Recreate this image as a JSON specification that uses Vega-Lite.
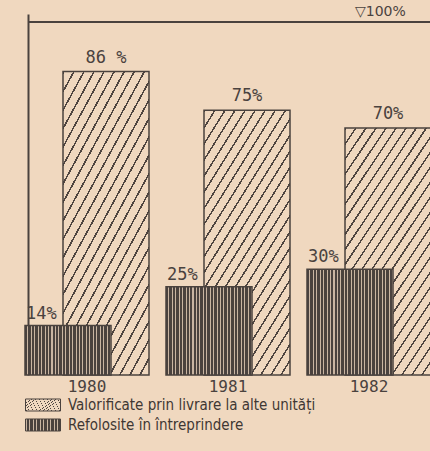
{
  "$schema": "https://vega.github.io/schema/vega-lite/v6.json",
  "width": 402,
  "height": 361,
  "autosize": {"type": "none"},
  "padding": {"left": 28, "top": 14, "right": 0, "bottom": 76},
  "background": "#f0d8bf",
  "config": {
    "view": {"stroke": null},
    "font": "DejaVu Sans Mono",
    "axisX": {"domain": false, "ticks": false, "grid": false, "labelFont": "DejaVu Sans Mono", "labelFontSize": 16, "labelColor": "#4a423e", "labelPadding": 3, "labelAngle": 0},
    "axisY": {"labels": false, "ticks": false, "grid": false, "domainColor": "#4a423e", "domainWidth": 2},
    "legend": {"orient": "none", "title": null, "symbolType": "M-1,-0.343H1V0.343H-1Z", "symbolSize": 1225, "symbolStrokeWidth": 1, "labelFont": "DejaVu Sans Condensed", "labelFontSize": 15, "labelColor": "#3f3733", "labelOffset": 7, "labelLimit": 0}
  },
  "resolve": {"scale": {"stroke": "independent"}, "legend": {"stroke": "independent"}},
  "data": {
    "values": [
      {"year": "1980", "type": "Valorificate prin livrare la alte unități", "value": 86, "label": "86 %"},
      {"year": "1981", "type": "Valorificate prin livrare la alte unități", "value": 75, "label": "75%"},
      {"year": "1982", "type": "Valorificate prin livrare la alte unități", "value": 70, "label": "70%"},
      {"year": "1980", "type": "Refolosite în întreprindere", "value": 14, "label": "14%"},
      {"year": "1981", "type": "Refolosite în întreprindere", "value": 25, "label": "25%"},
      {"year": "1982", "type": "Refolosite în întreprindere", "value": 30, "label": "30%"}
    ]
  },
  "layer": [
    {
      "mark": {"type": "rule", "strokeWidth": 2, "color": "#4a423e"},
      "encoding": {"y": {"datum": 100, "type": "quantitative", "scale": {"domain": [0, 102.3], "nice": false}, "title": null}}
    },
    {
      "transform": [{"filter": {"field": "type", "equal": "Valorificate prin livrare la alte unități"}}],
      "mark": {"type": "bar", "width": 86, "xOffset": 19, "strokeWidth": 1.5,
        "fill": {"gradient": "linear", "x1": 0, "y1": 0, "x2": 0.622, "y2": 1.197, "stops": [
                {"offset": 0, "color": "#4f4540"}, {"offset": 0.007, "color": "#4f4540"}, {"offset": 0.007, "color": "#f0d8bf"}, {"offset": 0.04, "color": "#f0d8bf"},
                {"offset": 0.04, "color": "#4f4540"}, {"offset": 0.047, "color": "#4f4540"}, {"offset": 0.047, "color": "#f0d8bf"}, {"offset": 0.08, "color": "#f0d8bf"},
                {"offset": 0.08, "color": "#4f4540"}, {"offset": 0.087, "color": "#4f4540"}, {"offset": 0.087, "color": "#f0d8bf"}, {"offset": 0.12, "color": "#f0d8bf"},
                {"offset": 0.12, "color": "#4f4540"}, {"offset": 0.127, "color": "#4f4540"}, {"offset": 0.127, "color": "#f0d8bf"}, {"offset": 0.16, "color": "#f0d8bf"},
                {"offset": 0.16, "color": "#4f4540"}, {"offset": 0.167, "color": "#4f4540"}, {"offset": 0.167, "color": "#f0d8bf"}, {"offset": 0.2, "color": "#f0d8bf"},
                {"offset": 0.2, "color": "#4f4540"}, {"offset": 0.207, "color": "#4f4540"}, {"offset": 0.207, "color": "#f0d8bf"}, {"offset": 0.24, "color": "#f0d8bf"},
                {"offset": 0.24, "color": "#4f4540"}, {"offset": 0.247, "color": "#4f4540"}, {"offset": 0.247, "color": "#f0d8bf"}, {"offset": 0.28, "color": "#f0d8bf"},
                {"offset": 0.28, "color": "#4f4540"}, {"offset": 0.287, "color": "#4f4540"}, {"offset": 0.287, "color": "#f0d8bf"}, {"offset": 0.32, "color": "#f0d8bf"},
                {"offset": 0.32, "color": "#4f4540"}, {"offset": 0.327, "color": "#4f4540"}, {"offset": 0.327, "color": "#f0d8bf"}, {"offset": 0.36, "color": "#f0d8bf"},
                {"offset": 0.36, "color": "#4f4540"}, {"offset": 0.367, "color": "#4f4540"}, {"offset": 0.367, "color": "#f0d8bf"}, {"offset": 0.4, "color": "#f0d8bf"},
                {"offset": 0.4, "color": "#4f4540"}, {"offset": 0.407, "color": "#4f4540"}, {"offset": 0.407, "color": "#f0d8bf"}, {"offset": 0.44, "color": "#f0d8bf"},
                {"offset": 0.44, "color": "#4f4540"}, {"offset": 0.447, "color": "#4f4540"}, {"offset": 0.447, "color": "#f0d8bf"}, {"offset": 0.48, "color": "#f0d8bf"},
                {"offset": 0.48, "color": "#4f4540"}, {"offset": 0.487, "color": "#4f4540"}, {"offset": 0.487, "color": "#f0d8bf"}, {"offset": 0.52, "color": "#f0d8bf"},
                {"offset": 0.52, "color": "#4f4540"}, {"offset": 0.527, "color": "#4f4540"}, {"offset": 0.527, "color": "#f0d8bf"}, {"offset": 0.56, "color": "#f0d8bf"},
                {"offset": 0.56, "color": "#4f4540"}, {"offset": 0.567, "color": "#4f4540"}, {"offset": 0.567, "color": "#f0d8bf"}, {"offset": 0.6, "color": "#f0d8bf"},
                {"offset": 0.6, "color": "#4f4540"}, {"offset": 0.607, "color": "#4f4540"}, {"offset": 0.607, "color": "#f0d8bf"}, {"offset": 0.64, "color": "#f0d8bf"},
                {"offset": 0.64, "color": "#4f4540"}, {"offset": 0.647, "color": "#4f4540"}, {"offset": 0.647, "color": "#f0d8bf"}, {"offset": 0.68, "color": "#f0d8bf"},
                {"offset": 0.68, "color": "#4f4540"}, {"offset": 0.687, "color": "#4f4540"}, {"offset": 0.687, "color": "#f0d8bf"}, {"offset": 0.72, "color": "#f0d8bf"},
                {"offset": 0.72, "color": "#4f4540"}, {"offset": 0.727, "color": "#4f4540"}, {"offset": 0.727, "color": "#f0d8bf"}, {"offset": 0.76, "color": "#f0d8bf"},
                {"offset": 0.76, "color": "#4f4540"}, {"offset": 0.767, "color": "#4f4540"}, {"offset": 0.767, "color": "#f0d8bf"}, {"offset": 0.8, "color": "#f0d8bf"},
                {"offset": 0.8, "color": "#4f4540"}, {"offset": 0.807, "color": "#4f4540"}, {"offset": 0.807, "color": "#f0d8bf"}, {"offset": 0.84, "color": "#f0d8bf"},
                {"offset": 0.84, "color": "#4f4540"}, {"offset": 0.847, "color": "#4f4540"}, {"offset": 0.847, "color": "#f0d8bf"}, {"offset": 0.88, "color": "#f0d8bf"},
                {"offset": 0.88, "color": "#4f4540"}, {"offset": 0.887, "color": "#4f4540"}, {"offset": 0.887, "color": "#f0d8bf"}, {"offset": 0.92, "color": "#f0d8bf"},
                {"offset": 0.92, "color": "#4f4540"}, {"offset": 0.927, "color": "#4f4540"}, {"offset": 0.927, "color": "#f0d8bf"}, {"offset": 0.96, "color": "#f0d8bf"},
                {"offset": 0.96, "color": "#4f4540"}, {"offset": 0.967, "color": "#4f4540"}, {"offset": 0.967, "color": "#f0d8bf"}, {"offset": 1, "color": "#f0d8bf"}
        ]}
      },
      "encoding": {
        "x": {"field": "year", "type": "nominal", "title": null, "scale": {"type": "band", "range": [-11.5, 411.5], "paddingInner": 0, "paddingOuter": 0}},
        "y": {"field": "value", "type": "quantitative", "title": null, "scale": {"domain": [0, 102.3], "nice": false}},
        "stroke": {
          "field": "type", "type": "nominal",
          "scale": {"domain": ["Valorificate prin livrare la alte unități"], "range": ["#4a423e"]},
          "legend": {
            "legendX": -3, "legendY": 373,
            "encode": {"symbols": {"update": {
              "fill": {"value": {"gradient": "linear", "x1": 0, "y1": 0, "x2": 1.138, "y2": 0.195, "stops": [
                {"offset": 0, "color": "#4f4540"}, {"offset": 0.025, "color": "#4f4540"}, {"offset": 0.025, "color": "#f0d8bf"}, {"offset": 0.125, "color": "#f0d8bf"},
                {"offset": 0.125, "color": "#4f4540"}, {"offset": 0.15, "color": "#4f4540"}, {"offset": 0.15, "color": "#f0d8bf"}, {"offset": 0.25, "color": "#f0d8bf"},
                {"offset": 0.25, "color": "#4f4540"}, {"offset": 0.275, "color": "#4f4540"}, {"offset": 0.275, "color": "#f0d8bf"}, {"offset": 0.375, "color": "#f0d8bf"},
                {"offset": 0.375, "color": "#4f4540"}, {"offset": 0.4, "color": "#4f4540"}, {"offset": 0.4, "color": "#f0d8bf"}, {"offset": 0.5, "color": "#f0d8bf"},
                {"offset": 0.5, "color": "#4f4540"}, {"offset": 0.525, "color": "#4f4540"}, {"offset": 0.525, "color": "#f0d8bf"}, {"offset": 0.625, "color": "#f0d8bf"},
                {"offset": 0.625, "color": "#4f4540"}, {"offset": 0.65, "color": "#4f4540"}, {"offset": 0.65, "color": "#f0d8bf"}, {"offset": 0.75, "color": "#f0d8bf"},
                {"offset": 0.75, "color": "#4f4540"}, {"offset": 0.775, "color": "#4f4540"}, {"offset": 0.775, "color": "#f0d8bf"}, {"offset": 0.875, "color": "#f0d8bf"},
                {"offset": 0.875, "color": "#4f4540"}, {"offset": 0.9, "color": "#4f4540"}, {"offset": 0.9, "color": "#f0d8bf"}, {"offset": 1, "color": "#f0d8bf"}
              ]}},
              "fillOpacity": {"value": 1},
              "opacity": {"value": 1}
            }}}
          }
        }
      }
    },
    {
      "transform": [{"filter": {"field": "type", "equal": "Refolosite în întreprindere"}}],
      "mark": {"type": "bar", "width": 86, "xOffset": -19, "strokeWidth": 1.5,
        "fill": {"gradient": "linear", "x1": 0, "y1": 0, "x2": 1, "y2": 0, "stops": [
                {"offset": 0, "color": "#4a423e"}, {"offset": 0.028, "color": "#4a423e"}, {"offset": 0.028, "color": "#c9b5a2"}, {"offset": 0.04, "color": "#c9b5a2"},
                {"offset": 0.04, "color": "#4a423e"}, {"offset": 0.068, "color": "#4a423e"}, {"offset": 0.068, "color": "#c9b5a2"}, {"offset": 0.08, "color": "#c9b5a2"},
                {"offset": 0.08, "color": "#4a423e"}, {"offset": 0.108, "color": "#4a423e"}, {"offset": 0.108, "color": "#c9b5a2"}, {"offset": 0.12, "color": "#c9b5a2"},
                {"offset": 0.12, "color": "#4a423e"}, {"offset": 0.148, "color": "#4a423e"}, {"offset": 0.148, "color": "#c9b5a2"}, {"offset": 0.16, "color": "#c9b5a2"},
                {"offset": 0.16, "color": "#4a423e"}, {"offset": 0.188, "color": "#4a423e"}, {"offset": 0.188, "color": "#c9b5a2"}, {"offset": 0.2, "color": "#c9b5a2"},
                {"offset": 0.2, "color": "#4a423e"}, {"offset": 0.228, "color": "#4a423e"}, {"offset": 0.228, "color": "#c9b5a2"}, {"offset": 0.24, "color": "#c9b5a2"},
                {"offset": 0.24, "color": "#4a423e"}, {"offset": 0.268, "color": "#4a423e"}, {"offset": 0.268, "color": "#c9b5a2"}, {"offset": 0.28, "color": "#c9b5a2"},
                {"offset": 0.28, "color": "#4a423e"}, {"offset": 0.308, "color": "#4a423e"}, {"offset": 0.308, "color": "#c9b5a2"}, {"offset": 0.32, "color": "#c9b5a2"},
                {"offset": 0.32, "color": "#4a423e"}, {"offset": 0.348, "color": "#4a423e"}, {"offset": 0.348, "color": "#c9b5a2"}, {"offset": 0.36, "color": "#c9b5a2"},
                {"offset": 0.36, "color": "#4a423e"}, {"offset": 0.388, "color": "#4a423e"}, {"offset": 0.388, "color": "#c9b5a2"}, {"offset": 0.4, "color": "#c9b5a2"},
                {"offset": 0.4, "color": "#4a423e"}, {"offset": 0.428, "color": "#4a423e"}, {"offset": 0.428, "color": "#c9b5a2"}, {"offset": 0.44, "color": "#c9b5a2"},
                {"offset": 0.44, "color": "#4a423e"}, {"offset": 0.468, "color": "#4a423e"}, {"offset": 0.468, "color": "#c9b5a2"}, {"offset": 0.48, "color": "#c9b5a2"},
                {"offset": 0.48, "color": "#4a423e"}, {"offset": 0.508, "color": "#4a423e"}, {"offset": 0.508, "color": "#c9b5a2"}, {"offset": 0.52, "color": "#c9b5a2"},
                {"offset": 0.52, "color": "#4a423e"}, {"offset": 0.548, "color": "#4a423e"}, {"offset": 0.548, "color": "#c9b5a2"}, {"offset": 0.56, "color": "#c9b5a2"},
                {"offset": 0.56, "color": "#4a423e"}, {"offset": 0.588, "color": "#4a423e"}, {"offset": 0.588, "color": "#c9b5a2"}, {"offset": 0.6, "color": "#c9b5a2"},
                {"offset": 0.6, "color": "#4a423e"}, {"offset": 0.628, "color": "#4a423e"}, {"offset": 0.628, "color": "#c9b5a2"}, {"offset": 0.64, "color": "#c9b5a2"},
                {"offset": 0.64, "color": "#4a423e"}, {"offset": 0.668, "color": "#4a423e"}, {"offset": 0.668, "color": "#c9b5a2"}, {"offset": 0.68, "color": "#c9b5a2"},
                {"offset": 0.68, "color": "#4a423e"}, {"offset": 0.708, "color": "#4a423e"}, {"offset": 0.708, "color": "#c9b5a2"}, {"offset": 0.72, "color": "#c9b5a2"},
                {"offset": 0.72, "color": "#4a423e"}, {"offset": 0.748, "color": "#4a423e"}, {"offset": 0.748, "color": "#c9b5a2"}, {"offset": 0.76, "color": "#c9b5a2"},
                {"offset": 0.76, "color": "#4a423e"}, {"offset": 0.788, "color": "#4a423e"}, {"offset": 0.788, "color": "#c9b5a2"}, {"offset": 0.8, "color": "#c9b5a2"},
                {"offset": 0.8, "color": "#4a423e"}, {"offset": 0.828, "color": "#4a423e"}, {"offset": 0.828, "color": "#c9b5a2"}, {"offset": 0.84, "color": "#c9b5a2"},
                {"offset": 0.84, "color": "#4a423e"}, {"offset": 0.868, "color": "#4a423e"}, {"offset": 0.868, "color": "#c9b5a2"}, {"offset": 0.88, "color": "#c9b5a2"},
                {"offset": 0.88, "color": "#4a423e"}, {"offset": 0.908, "color": "#4a423e"}, {"offset": 0.908, "color": "#c9b5a2"}, {"offset": 0.92, "color": "#c9b5a2"},
                {"offset": 0.92, "color": "#4a423e"}, {"offset": 0.948, "color": "#4a423e"}, {"offset": 0.948, "color": "#c9b5a2"}, {"offset": 0.96, "color": "#c9b5a2"},
                {"offset": 0.96, "color": "#4a423e"}, {"offset": 0.988, "color": "#4a423e"}, {"offset": 0.988, "color": "#c9b5a2"}, {"offset": 1, "color": "#c9b5a2"}
        ]}
      },
      "encoding": {
        "x": {"field": "year", "type": "nominal", "title": null},
        "y": {"field": "value", "type": "quantitative", "title": null},
        "stroke": {
          "field": "type", "type": "nominal",
          "scale": {"domain": ["Refolosite în întreprindere"], "range": ["#4a423e"]},
          "legend": {
            "legendX": -3, "legendY": 393,
            "encode": {"symbols": {"update": {
              "fill": {"value": {"gradient": "linear", "x1": 0, "y1": 0, "x2": 1, "y2": 0, "stops": [
                {"offset": 0, "color": "#4a423e"}, {"offset": 0.06, "color": "#4a423e"}, {"offset": 0.06, "color": "#d8c4b0"}, {"offset": 0.1, "color": "#d8c4b0"},
                {"offset": 0.1, "color": "#4a423e"}, {"offset": 0.16, "color": "#4a423e"}, {"offset": 0.16, "color": "#d8c4b0"}, {"offset": 0.2, "color": "#d8c4b0"},
                {"offset": 0.2, "color": "#4a423e"}, {"offset": 0.26, "color": "#4a423e"}, {"offset": 0.26, "color": "#d8c4b0"}, {"offset": 0.3, "color": "#d8c4b0"},
                {"offset": 0.3, "color": "#4a423e"}, {"offset": 0.36, "color": "#4a423e"}, {"offset": 0.36, "color": "#d8c4b0"}, {"offset": 0.4, "color": "#d8c4b0"},
                {"offset": 0.4, "color": "#4a423e"}, {"offset": 0.46, "color": "#4a423e"}, {"offset": 0.46, "color": "#d8c4b0"}, {"offset": 0.5, "color": "#d8c4b0"},
                {"offset": 0.5, "color": "#4a423e"}, {"offset": 0.56, "color": "#4a423e"}, {"offset": 0.56, "color": "#d8c4b0"}, {"offset": 0.6, "color": "#d8c4b0"},
                {"offset": 0.6, "color": "#4a423e"}, {"offset": 0.66, "color": "#4a423e"}, {"offset": 0.66, "color": "#d8c4b0"}, {"offset": 0.7, "color": "#d8c4b0"},
                {"offset": 0.7, "color": "#4a423e"}, {"offset": 0.76, "color": "#4a423e"}, {"offset": 0.76, "color": "#d8c4b0"}, {"offset": 0.8, "color": "#d8c4b0"},
                {"offset": 0.8, "color": "#4a423e"}, {"offset": 0.86, "color": "#4a423e"}, {"offset": 0.86, "color": "#d8c4b0"}, {"offset": 0.9, "color": "#d8c4b0"},
                {"offset": 0.9, "color": "#4a423e"}, {"offset": 0.96, "color": "#4a423e"}, {"offset": 0.96, "color": "#d8c4b0"}, {"offset": 1, "color": "#d8c4b0"}
              ]}},
              "fillOpacity": {"value": 1},
              "opacity": {"value": 1}
            }}}
          }
        }
      }
    },
    {
      "transform": [{"filter": {"field": "type", "equal": "Valorificate prin livrare la alte unități"}}],
      "mark": {"type": "text", "xOffset": 19, "dy": -5, "baseline": "bottom", "align": "center", "font": "DejaVu Sans Mono", "fontSize": 17, "color": "#4a423e"},
      "encoding": {
        "x": {"field": "year", "type": "nominal", "title": null},
        "y": {"field": "value", "type": "quantitative", "title": null},
        "text": {"field": "label"}
      }
    },
    {
      "transform": [{"filter": {"field": "type", "equal": "Refolosite în întreprindere"}}],
      "mark": {"type": "text", "xOffset": -19, "dx": -42, "dy": -3, "baseline": "bottom", "align": "left", "font": "DejaVu Sans Mono", "fontSize": 17, "color": "#4a423e"},
      "encoding": {
        "x": {"field": "year", "type": "nominal", "title": null},
        "y": {"field": "value", "type": "quantitative", "title": null},
        "text": {"field": "label"}
      }
    },
    {
      "data": {"values": [{"note": "▽100%"}]},
      "mark": {"type": "text", "dx": -14, "dy": -3, "baseline": "bottom", "align": "left", "font": "DejaVu Sans", "fontSize": 14, "color": "#4a423e"},
      "encoding": {
        "x": {"datum": "1982", "type": "nominal"},
        "y": {"datum": 100, "type": "quantitative"},
        "text": {"field": "note"}
      }
    }
  ]
}
